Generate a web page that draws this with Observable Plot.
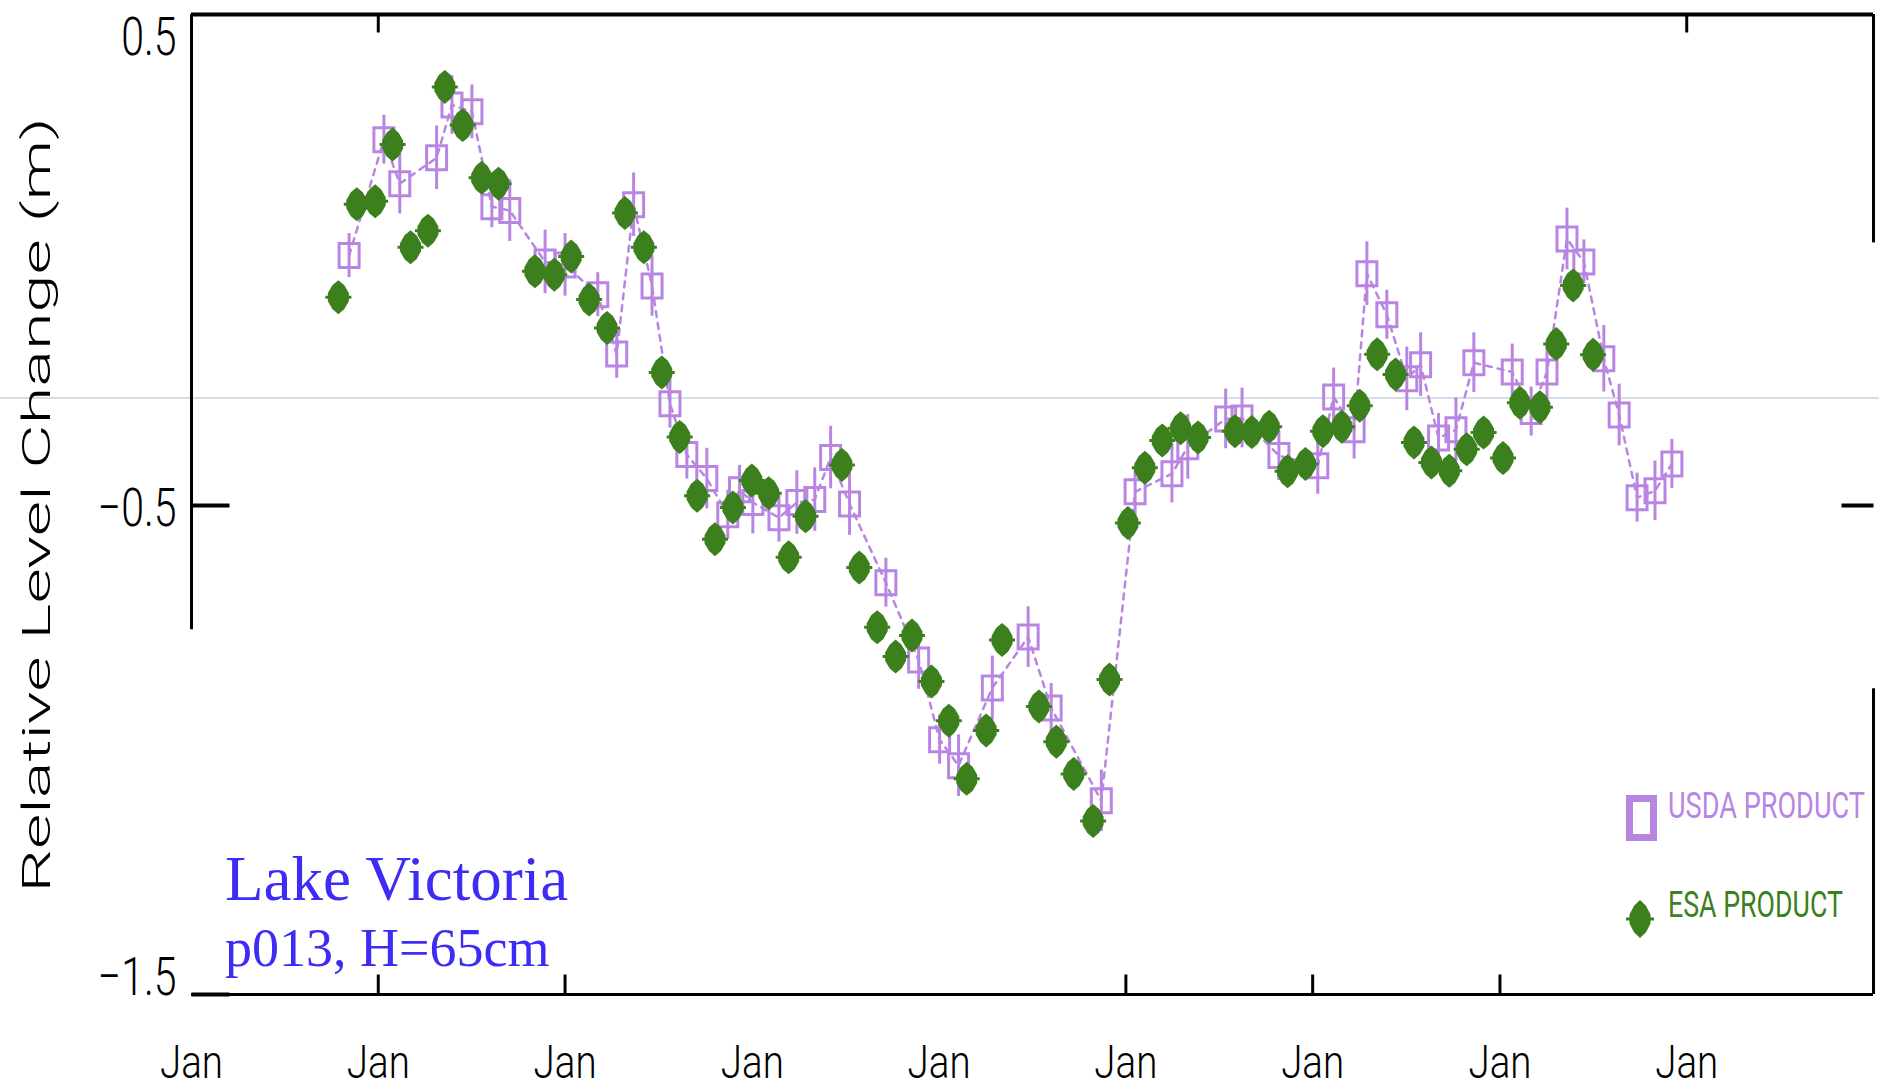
<!DOCTYPE html>
<html>
<head>
<meta charset="utf-8">
<script src="https://cdn.jsdelivr.net/npm/d3@7"></script>
<script src="https://cdn.jsdelivr.net/npm/@observablehq/plot@0.6"></script>
<style>
  html, body { margin: 0; padding: 0; background: #fff; }
  #chart { position: relative; width: 1879px; height: 1090px; overflow: hidden; }
  #chart svg.overlay { position: absolute; left: 0; top: 0; pointer-events: none; }
</style>
</head>
<body>
<div id="chart"></div>
<script>
// ESA altimetry product (ENVISAT, 35-day cycles): relative lake level in metres
const esaDates = [
  "2002-10-15","2002-11-20","2002-12-26","2003-01-29","2003-03-05","2003-04-08","2003-05-11","2003-06-15","2003-07-22","2003-08-24",
  "2003-11-03","2003-12-11","2004-01-13","2004-02-17","2004-03-23","2004-04-27","2004-06-03","2004-07-08","2004-08-12","2004-09-15",
  "2004-10-20","2004-11-24","2004-12-31","2005-02-02","2005-03-13","2005-04-15","2005-06-25","2005-07-29","2005-09-02","2005-10-08",
  "2005-11-09","2005-12-17","2006-01-20","2006-02-24","2006-04-03","2006-05-04","2006-07-15","2006-08-18","2006-09-21","2006-10-29",
  "2006-11-30","2007-01-05","2007-02-07","2007-03-13","2007-04-18","2007-05-22","2007-08-02","2007-09-04","2007-10-08","2007-11-13",
  "2007-12-18","2008-01-21","2008-02-27","2008-04-02","2008-05-06","2008-06-11","2008-07-17","2008-08-20","2008-09-24","2008-10-28",
  "2008-11-30","2009-01-07","2009-02-09","2009-03-20","2009-04-21","2009-05-24","2009-07-02"
];
const esaLevel = [
  -0.074, 0.116, 0.122, 0.238, 0.028, 0.062, 0.356, 0.278, 0.170, 0.158,
  -0.021, -0.028, 0.009, -0.079, -0.137, 0.098, 0.028, -0.228, -0.360, -0.480,
  -0.569, -0.504, -0.449, -0.475, -0.606, -0.522, -0.417, -0.627, -0.749, -0.809,
  -0.766, -0.860, -0.940, -1.059, -0.960, -0.775, -0.911, -0.983, -1.049, -1.145,
  -0.856, -0.536, -0.423, -0.367, -0.342, -0.361, -0.348, -0.350, -0.339, -0.430,
  -0.415, -0.348, -0.339, -0.296, -0.191, -0.232, -0.371, -0.412, -0.429, -0.385,
  -0.351, -0.403, -0.290, -0.299, -0.170, -0.050, -0.192
];

// USDA product: relative lake level (m) and its uncertainty (m)
const usdaDates = [
  "2002-11-05","2003-01-12","2003-02-12","2003-04-25","2003-05-25","2003-07-03","2003-08-11","2003-09-15","2003-11-23","2004-01-01",
  "2004-03-05","2004-04-11","2004-05-14","2004-06-19","2004-07-24","2004-08-26","2004-10-04","2004-11-14","2004-12-07","2005-01-02",
  "2005-02-22","2005-03-29","2005-05-03","2005-06-03","2005-07-10","2005-09-19","2005-11-22","2006-01-02","2006-02-08","2006-04-15",
  "2006-06-24","2006-08-08","2006-11-14","2007-01-19","2007-04-01","2007-05-02","2007-07-15","2007-08-16","2007-10-27","2008-01-11",
  "2008-02-11","2008-03-22","2008-04-16","2008-05-25","2008-07-03","2008-07-30","2008-09-03","2008-10-07","2008-11-11","2009-01-25",
  "2009-03-03","2009-04-03","2009-05-12","2009-06-14","2009-07-23","2009-08-22","2009-09-26","2009-10-31","2009-12-03"
];
const usdaLevel = [
  0.011, 0.248, 0.158, 0.211, 0.319, 0.305, 0.111, 0.103, -0.002, -0.008,
  -0.069, -0.190, 0.115, -0.051, -0.292, -0.396, -0.445, -0.519, -0.468, -0.494,
  -0.525, -0.494, -0.488, -0.402, -0.497, -0.658, -0.816, -0.979, -1.032, -0.873,
  -0.769, -0.914, -1.104, -0.472, -0.435, -0.380, -0.323, -0.321, -0.398, -0.419,
  -0.278, -0.345, -0.026, -0.110, -0.241, -0.212, -0.362, -0.345, -0.208, -0.227,
  -0.308, -0.227, 0.045, -0.002, -0.200, -0.315, -0.484, -0.470, -0.415
];
const usdaErr = [
  0.045, 0.050, 0.062, 0.065, 0.060, 0.055, 0.043, 0.063, 0.065, 0.064,
  0.045, 0.050, 0.065, 0.062, 0.050, 0.050, 0.062, 0.050, 0.050, 0.064,
  0.050, 0.065, 0.065, 0.064, 0.064, 0.050, 0.060, 0.050, 0.063, 0.065,
  0.062, 0.050, 0.063, 0.050, 0.060, 0.066, 0.061, 0.061, 0.051, 0.058,
  0.059, 0.060, 0.065, 0.050, 0.065, 0.065, 0.050, 0.065, 0.061, 0.057,
  0.050, 0.056, 0.063, 0.045, 0.068, 0.063, 0.050, 0.061, 0.050
];

// Axis ticks and labels
const yearTicks = ["2002-01-01","2003-01-01","2004-01-01","2005-01-01","2006-01-01","2007-01-01","2008-01-01","2009-01-01","2010-01-01"];
const bottomTickDates = ["2003-01-01","2004-01-01","2007-01-01","2008-01-01","2009-01-01"];
const topTickDates = ["2003-01-01","2010-01-01"];
const yTicks = [0.5, -0.5, -1.5];
const yInnerTicks = [-0.5, -1.5];
const referenceLevel = -0.28;

const yLabel = "Relative Level Change (m)";
const lakeName = "Lake Victoria";
const passInfo = "p013, H=65cm";
const seriesNames = ["USDA PRODUCT", "ESA PRODUCT"];

// ---- styling ----
const PURPLE = "#b985e3";
const GREEN = "#3c7f1d";
const BLUE = "#3d2cf5";
const GREY = "#c9d1de";
const yTickShift = [21, 3, -17];

const parse = d3.utcParse("%Y-%m-%d");
const X_START = parse("2002-01-01");
const X_END = parse("2011-01-01");
const Y_MIN = -1.5;
const Y_MAX = 0.504;

const esa = esaDates.map((d, i) => ({date: parse(d), level: esaLevel[i]}));
const usda = usdaDates.map((d, i) => ({date: parse(d), level: usdaLevel[i], err: usdaErr[i]}));

// tall filled diamond with short side whiskers
function drawLens(ctx, hw, hh, ear) {
  ctx.moveTo(0, -hh);
  ctx.lineTo(hw * 0.57, -hh * 0.7);
  ctx.lineTo(hw, -hh * 0.24);
  ctx.lineTo(hw, hh * 0.24);
  ctx.lineTo(hw * 0.57, hh * 0.7);
  ctx.lineTo(0, hh);
  ctx.lineTo(-hw * 0.57, hh * 0.7);
  ctx.lineTo(-hw, hh * 0.24);
  ctx.lineTo(-hw, -hh * 0.24);
  ctx.lineTo(-hw * 0.57, -hh * 0.7);
  ctx.closePath();
  ctx.rect(-ear, -1.5, 2 * ear, 3);
}
const lensSymbol = {draw(ctx) { drawLens(ctx, 10.5, 17, 13); }};
const boxSymbol = {draw(ctx) { ctx.rect(-10, -12, 20, 24); }};
const segment = (dx, dy) => ({draw(ctx) { ctx.moveTo(0, 0); ctx.lineTo(dx, dy); }});

const axisFont = {fontFamily: "Roboto", fontWeight: 300};

const chart = Plot.plot({
  width: 1879,
  height: 1090,
  marginLeft: 191,
  marginRight: 6,
  marginTop: 14,
  marginBottom: 96,
  x: {type: "utc", domain: [X_START, X_END]},
  y: {domain: [Y_MIN, Y_MAX]},
  style: {background: "white", color: "black", overflow: "visible"},
  marks: [
    // reference level across the whole figure
    Plot.ruleY([referenceLevel], {stroke: GREY, strokeWidth: 1.5, insetLeft: -191, insetRight: -6}),

    // USDA series: dashed connector, error bars, open boxes
    Plot.line(usda, {x: "date", y: "level", stroke: PURPLE, strokeWidth: 2.5, strokeDasharray: "6,6"}),
    Plot.ruleX(usda, {x: "date", y1: d => d.level - d.err, y2: d => d.level + d.err, stroke: PURPLE, strokeWidth: 3}),
    Plot.dot(usda, {x: "date", y: "level", symbol: boxSymbol, fill: "none", stroke: PURPLE, strokeWidth: 3}),

    // ESA series: filled diamonds
    Plot.dot(esa, {x: "date", y: "level", symbol: lensSymbol, fill: GREEN, stroke: "none"}),

    // frame segments
    Plot.ruleY([Y_MAX], {x1: X_START, x2: X_END, strokeWidth: 4}),
    Plot.ruleY([Y_MIN], {x1: X_START, x2: X_END, strokeWidth: 3}),
    Plot.ruleX([X_START], {y1: Y_MAX, y2: -0.754, strokeWidth: 3}),
    Plot.ruleX([{from: Y_MAX, to: 0.037}, {from: -0.875, to: Y_MIN}], {x: () => X_END, y1: "from", y2: "to", strokeWidth: 3}),

    // inward ticks
    Plot.dot(yInnerTicks, {x: () => X_START, y: d => d, symbol: segment(38, 0), fill: "none", stroke: "black", strokeWidth: 4}),
    Plot.dot([-0.5], {x: () => X_END, y: d => d, symbol: segment(-32, 0), fill: "none", stroke: "black", strokeWidth: 4}),
    Plot.dot(bottomTickDates.map(parse), {x: d => d, y: () => Y_MIN, symbol: segment(0, -20), fill: "none", stroke: "black", strokeWidth: 3}),
    Plot.dot(topTickDates.map(parse), {x: d => d, y: () => Y_MAX, symbol: segment(0, 18), fill: "none", stroke: "black", strokeWidth: 3}),

    // axis labels
    Plot.axisX({ticks: yearTicks.map(parse), tickFormat: d3.utcFormat("%b"), tickSize: 0, tickPadding: 50, fontSize: 47, label: null, ...axisFont}),
    ...yTicks.map((v, i) => Plot.axisY({ticks: [v], tickFormat: d3.format(".1f"), tickSize: 0, tickPadding: 15, dy: yTickShift[i], fontSize: 54, label: null, ...axisFont}))
  ]
});

// condensed tick lettering
function squash(el, kx, ky) {
  const x = +el.getAttribute("x") || 0;
  const t = el.getAttribute("transform") || "";
  el.setAttribute("transform", `${t} translate(${x},0) scale(${kx},${ky}) translate(${-x},0)`);
}
chart.querySelectorAll('[aria-label="y-axis tick label"] text')
  .forEach(el => squash(el, 0.76, 1));
chart.querySelectorAll('[aria-label="x-axis tick label"] text')
  .forEach(el => squash(el, 0.82, 1));

// annotation layer: axis title, lake label, legend
const overlay = d3.create("svg")
  .attr("class", "overlay")
  .attr("width", 1879)
  .attr("height", 1090);

overlay.append("text")
  .attr("transform", "translate(50,505) rotate(-90)")
  .attr("text-anchor", "middle")
  .attr("font-family", "Roboto")
  .attr("font-weight", 300)
  .attr("font-size", 39)
  .attr("textLength", 775)
  .attr("lengthAdjust", "spacingAndGlyphs")
  .text(yLabel);

overlay.append("text")
  .attr("x", 225).attr("y", 900)
  .attr("font-family", "Liberation Serif")
  .attr("font-size", 63)
  .attr("fill", BLUE)
  .text(lakeName);

overlay.append("text")
  .attr("x", 225).attr("y", 966)
  .attr("font-family", "Liberation Serif")
  .attr("font-size", 54)
  .attr("fill", BLUE)
  .text(passInfo);

// legend
overlay.append("rect")
  .attr("x", 1629.5).attr("y", 798.5)
  .attr("width", 24).attr("height", 39)
  .attr("fill", "none").attr("stroke", PURPLE).attr("stroke-width", 7);

const lp = d3.path();
drawLens(lp, 10.5, 19, 14);
overlay.append("path")
  .attr("transform", "translate(1640,919)")
  .attr("d", lp.toString())
  .attr("fill", GREEN);

// legend entries: tall condensed lettering, fitted to a target width
const legendEntries = [
  {text: seriesNames[0], x: 1668, y: 818, width: 197, color: PURPLE},
  {text: seriesNames[1], x: 1668, y: 917, width: 175, color: GREEN}
];
const legendText = overlay.selectAll("text.legend")
  .data(legendEntries)
  .join("text")
  .attr("class", "legend")
  .attr("font-family", "Roboto")
  .attr("font-size", 27)
  .attr("fill", d => d.color)
  .attr("transform", d => `translate(${d.x},${d.y}) scale(0.94,1.4)`)
  .text(d => d.text);

const root = document.getElementById("chart");
root.append(chart);
root.append(overlay.node());

// fit each legend label to its width now that it can be measured
legendText.each(function(d) {
  const len = this.getComputedTextLength();
  if (len > 0) this.setAttribute("transform", `translate(${d.x},${d.y}) scale(${d.width / len},1.4)`);
});
</script>
</body>
</html>
